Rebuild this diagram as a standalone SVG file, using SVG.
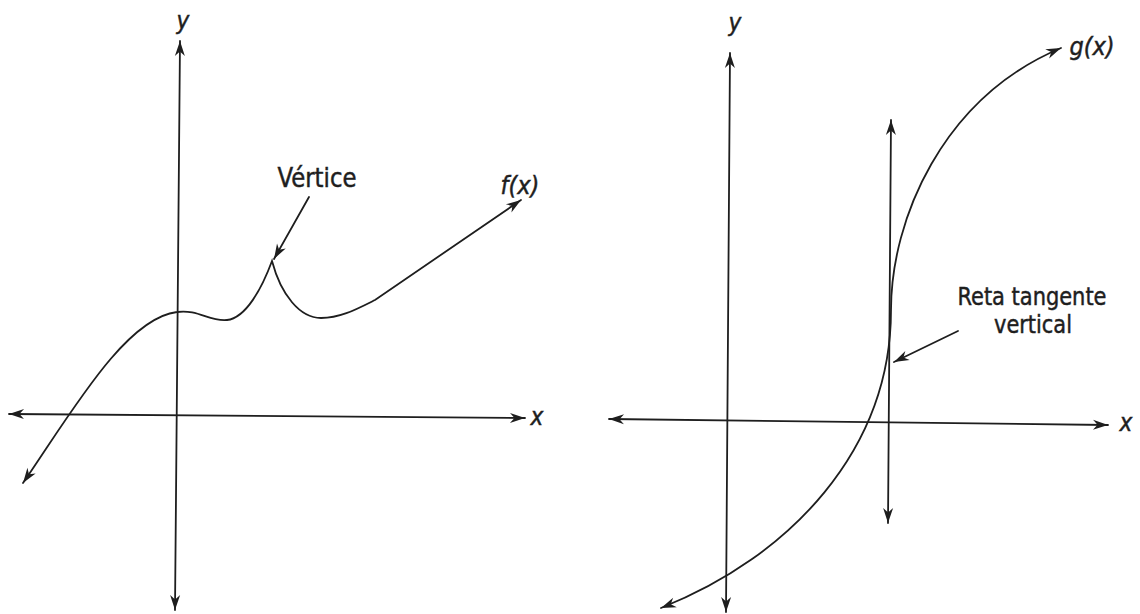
<svg xmlns="http://www.w3.org/2000/svg" width="1140" height="614" viewBox="0 0 1140 614">
<style>
.ln{fill:none;stroke:#1e1e1e;stroke-width:1.8;stroke-linecap:round}
.ax{marker-start:url(#ah);marker-end:url(#ah)}
.lb{font-family:"Liberation Sans Narrow","DejaVu Sans Condensed","Liberation Sans",Arial,sans-serif;fill:#1e1e1e;stroke:#1e1e1e;stroke-width:0.45}
.it{font-style:italic}
</style>
<defs>
<marker id="ah" viewBox="-16 -6 17 12" refX="0" refY="0" markerWidth="17" markerHeight="12" markerUnits="userSpaceOnUse" orient="auto-start-reverse">
<path d="M0,0 L-15,-5 L-10.5,0 L-15,5 Z" fill="#1e1e1e"/>
</marker>
</defs>
<rect width="1140" height="614" fill="#ffffff"/>
<g id="left-graph">
<g id="left-y-axis">
<path class="ln ax" d="M175,610 L180,41"/>
<text class="lb it" x="183" y="29" text-anchor="middle" font-size="24">y</text>
</g>
<g id="left-x-axis">
<path class="ln ax" d="M9,414 L525,418"/>
<text class="lb it" x="537" y="425" text-anchor="middle" font-size="24">x</text>
</g>
<g id="fx-curve">
<path class="ln ax" d="M23,483 C70,415 125,318 177,312 C198,309 210,322 227,320 C246,318 262,288 272,261 C281,295 300,318 321,318 C340,318 355,310 375,300 L521,200"/>
<text class="lb it" x="520" y="194" text-anchor="middle" font-size="25">f(x)</text>
</g>
<g id="vertice-label">
<text class="lb" x="317" y="187" text-anchor="middle" font-size="27" textLength="79" lengthAdjust="spacingAndGlyphs">Vértice</text>
</g>
</g>
<g id="right-graph">
<g id="right-y-axis">
<path class="ln ax" d="M726,612 L730,53"/>
<text class="lb it" x="735" y="31" text-anchor="middle" font-size="24">y</text>
</g>
<g id="right-x-axis">
<path class="ln ax" d="M609,419 L1108,425"/>
<text class="lb it" x="1126" y="431" text-anchor="middle" font-size="24">x</text>
</g>
<g id="tangent-line">
<path class="ln ax" d="M888,523 L891,120"/>
</g>
<g id="gx-curve">
<path class="ln ax" d="M661,608 C790,557 891,450 891,310 C891,220 942,98 1061,48"/>
<text class="lb it" x="1092" y="55" text-anchor="middle" font-size="25">g(x)</text>
</g>
<g id="tangent-label">
<text class="lb" x="1032" y="305" text-anchor="middle" font-size="25" textLength="149" lengthAdjust="spacingAndGlyphs">Reta tangente</text>
<text class="lb" x="1033" y="333" text-anchor="middle" font-size="25" textLength="78" lengthAdjust="spacingAndGlyphs">vertical</text>
</g>
</g>
<g id="connectors">
<path class="ln" d="M309,197 L274,259" marker-end="url(#ah)"/>
<path class="ln" d="M958,331 L894,362" marker-end="url(#ah)"/>
</g>
</svg>
